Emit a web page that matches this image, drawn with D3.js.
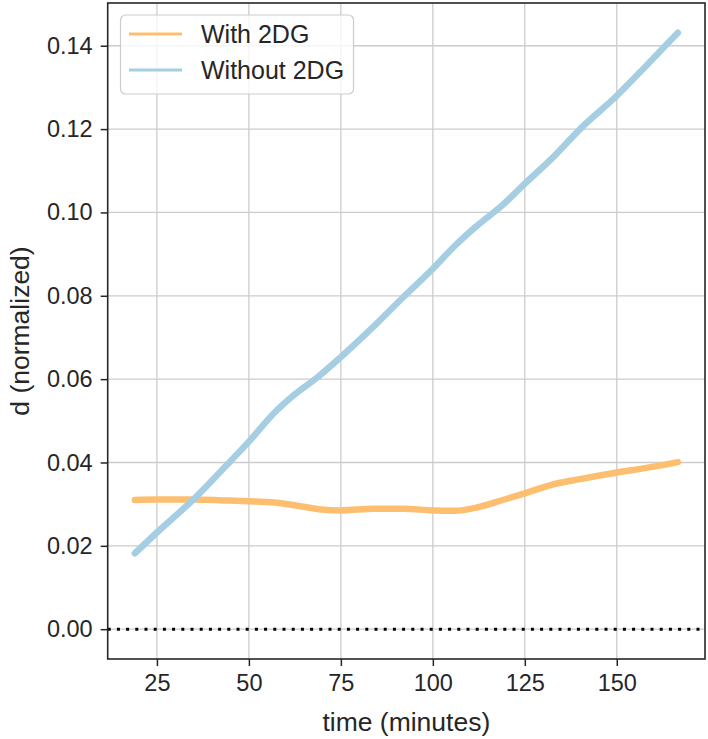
<!DOCTYPE html>
<html>
<head>
<meta charset="utf-8">
<script src="https://cdn.jsdelivr.net/npm/d3@7"></script>
<style>
  body { margin: 0; background: #fff; }
  text { font-family: "Liberation Sans", Arial, sans-serif; fill: #262626; }
</style>
</head>
<body>
<svg id="chart" width="708" height="739"></svg>
<script>
// ---- data ----
const times = [19, 25, 35, 43, 50, 57, 62, 69, 75, 84, 92, 100, 106, 112, 119, 125, 133, 140, 150, 158, 166.6];
const withDG = [0.0310, 0.0311, 0.0311, 0.0309, 0.0307, 0.0304, 0.0298, 0.0288, 0.0285, 0.0289, 0.0289, 0.0285, 0.0284, 0.0292, 0.0310, 0.0326, 0.0348, 0.0360, 0.0376, 0.0387, 0.0401];
const withoutDG = [0.0182, 0.0232, 0.0312, 0.0385, 0.0450, 0.0520, 0.0560, 0.0607, 0.0653, 0.0727, 0.0797, 0.0865, 0.0920, 0.0968, 0.1018, 0.1069, 0.1135, 0.1200, 0.1280, 0.1352, 0.1431];
const seriesNames = ["With 2DG", "Without 2DG"];
const seriesColors = ["#fdbf6f", "#a6cee3"];
const xTicks = [25, 50, 75, 100, 125, 150];
const yTicks = [0.00, 0.02, 0.04, 0.06, 0.08, 0.10, 0.12, 0.14];
const xLabel = "time (minutes)";
const yLabel = "d (normalized)";

// ---- layout ----
const L = 107.7, R = 705, T = 3, B = 659;
const svg = d3.select("#chart");

const xMin = d3.min(times), xMax = d3.max(times);
const xPad = (xMax - xMin) * 0.05;
const x = d3.scaleLinear().domain([xMin - xPad, xMax + xPad]).range([L, R]);

const yLo = 0, yHi = d3.max(withoutDG.concat(withDG));
const yPad = (yHi - yLo) * 0.05;
const y = d3.scaleLinear().domain([yLo - yPad, yHi + yPad]).range([B, T]);

// grid
const grid = svg.append("g");
grid.selectAll("line.vx").data(xTicks).enter().append("line")
  .attr("x1", d => x(d)).attr("x2", d => x(d)).attr("y1", T).attr("y2", B)
  .attr("stroke", "#cccccc").attr("stroke-width", 1.3);
grid.selectAll("line.hy").data(yTicks).enter().append("line")
  .attr("y1", d => y(d)).attr("y2", d => y(d)).attr("x1", L).attr("x2", R)
  .attr("stroke", "#cccccc").attr("stroke-width", 1.3);

// zero line (dotted)
svg.append("line")
  .attr("x1", L).attr("x2", R).attr("y1", y(0)).attr("y2", y(0))
  .attr("stroke", "#000").attr("stroke-width", 3)
  .attr("stroke-dasharray", "3,6.2");

// series
const line = d3.line().x(d => x(d[0])).y(d => y(d[1])).curve(d3.curveMonotoneX);
[withDG, withoutDG].forEach((vals, i) => {
  svg.append("path")
    .datum(times.map((t, j) => [t, vals[j]]))
    .attr("d", line)
    .attr("fill", "none")
    .attr("stroke", seriesColors[i])
    .attr("stroke-width", 6.5)
    .attr("stroke-linecap", "round")
    .attr("stroke-linejoin", "round");
});

// frame
svg.append("rect").attr("x", L).attr("y", T).attr("width", R - L).attr("height", B - T)
  .attr("fill", "none").attr("stroke", "#262626").attr("stroke-width", 1.6);

// axes
const xAxis = d3.axisBottom(x).tickValues(xTicks).tickSize(7).tickPadding(8).tickFormat(d3.format("d"));
const gx = svg.append("g").attr("transform", `translate(0,${B})`).call(xAxis);
const yAxis = d3.axisLeft(y).tickValues(yTicks).tickSize(7).tickPadding(8).tickFormat(d3.format(".2f"));
const gy = svg.append("g").attr("transform", `translate(${L},0)`).call(yAxis);
[gx, gy].forEach(g => {
  g.select(".domain").remove();
  g.selectAll(".tick line").attr("stroke", "#262626").attr("stroke-width", 1.5);
  g.selectAll(".tick text").attr("font-size", 23.5).attr("fill", "#262626")
    .style("font-family", '"Liberation Sans", Arial, sans-serif');
});

// axis labels
svg.append("text").attr("x", (L + R) / 2).attr("y", 731).attr("text-anchor", "middle")
  .attr("font-size", 26.5).text(xLabel);
svg.append("text").attr("transform", `translate(29,${(T + B) / 2}) rotate(-90)`)
  .attr("text-anchor", "middle").attr("font-size", 26.5).text(yLabel);

// legend
const lg = svg.append("g");
lg.append("rect").attr("x", 120.5).attr("y", 15).attr("width", 233).attr("height", 79)
  .attr("rx", 5).attr("fill", "#fff").attr("fill-opacity", 0.8)
  .attr("stroke", "#cccccc").attr("stroke-width", 1.2);
seriesNames.forEach((name, i) => {
  const cy = 34 + i * 36;
  lg.append("line").attr("x1", 129).attr("x2", 182).attr("y1", cy).attr("y2", cy)
    .attr("stroke", seriesColors[i]).attr("stroke-width", 3);
  lg.append("text").attr("x", 201).attr("y", cy + 9).attr("font-size", 25).text(name);
});
</script>
</body>
</html>
